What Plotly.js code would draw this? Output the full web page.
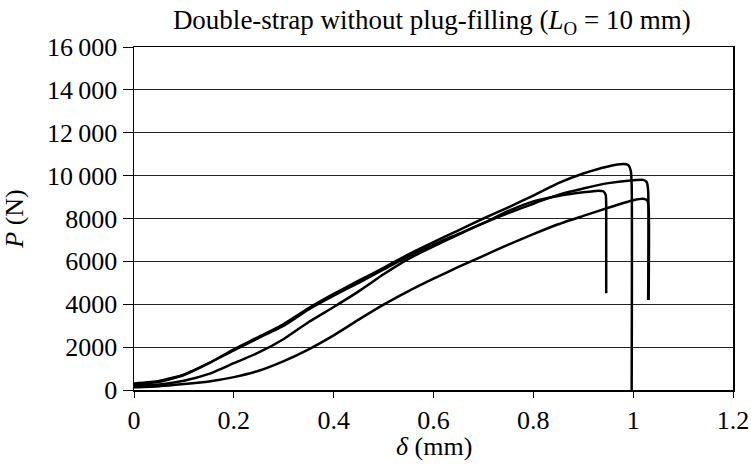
<!DOCTYPE html>
<html>
<head>
<meta charset="utf-8">
<script src="https://cdn.plot.ly/plotly-3.0.1.min.js"></script>
<style>html,body{margin:0;padding:0;background:#fff;}</style>
</head>
<body>
<div id="chart" style="width:751px;height:464px;"></div>
<script>
// Specimen curves: delta (mm) and P (N)
const xA = [0, 0.05, 0.1, 0.15, 0.2, 0.25, 0.3, 0.35, 0.4, 0.45, 0.5, 0.55, 0.6, 0.65, 0.7, 0.75, 0.8, 0.85, 0.9, 0.95, 0.98, 0.99, 0.995, 0.997, 0.997];
const yA = [250, 380, 700, 1250, 1900, 2480, 3080, 3820, 4480, 5100, 5700, 6330, 6900, 7450, 8000, 8520, 9070, 9650, 10100, 10430, 10540, 10500, 10250, 9600, 0];

const xB = [0, 0.05, 0.1, 0.15, 0.2, 0.25, 0.3, 0.35, 0.4, 0.45, 0.5, 0.55, 0.6, 0.65, 0.7, 0.75, 0.8, 0.85, 0.9, 0.95, 1.0, 1.02, 1.027, 1.03, 1.03];
const yB = [200, 260, 430, 750, 1250, 1750, 2380, 3170, 3870, 4600, 5400, 6120, 6700, 7250, 7780, 8250, 8690, 9100, 9400, 9650, 9790, 9800, 9700, 9300, 4200];

const xC = [0, 0.05, 0.1, 0.15, 0.2, 0.25, 0.3, 0.35, 0.4, 0.45, 0.5, 0.55, 0.6, 0.65, 0.7, 0.75, 0.8, 0.85, 0.9, 0.93, 0.94, 0.945, 0.946, 0.946];
const yC = [300, 420, 720, 1250, 1850, 2430, 3000, 3760, 4400, 5000, 5620, 6230, 6780, 7280, 7780, 8350, 8800, 9050, 9220, 9300, 9270, 9100, 8600, 4510];

const xD = [0, 0.05, 0.1, 0.15, 0.2, 0.25, 0.3, 0.35, 0.4, 0.45, 0.5, 0.55, 0.6, 0.65, 0.7, 0.75, 0.8, 0.85, 0.9, 0.95, 1.0, 1.02, 1.028, 1.031, 1.031];
const yD = [130, 180, 280, 400, 600, 900, 1350, 1900, 2550, 3280, 3980, 4610, 5190, 5740, 6260, 6780, 7270, 7730, 8120, 8500, 8850, 8920, 8850, 8500, 4200];

const yTickVals = [0, 2000, 4000, 6000, 8000, 10000, 12000, 14000, 16000];
const yTickText = ['0', '2000', '4000', '6000', '8000', '10\u2009000', '12\u2009000', '14\u2009000', '16\u2009000'];
const xTickVals = [0, 0.2, 0.4, 0.6, 0.8, 1, 1.2];
const xTickText = ['0', '0.2', '0.4', '0.6', '0.8', '1', '1.2'];

const series = [[xA, yA], [xB, yB], [xC, yC], [xD, yD]];
const traces = series.map(s => ({
  x: s[0], y: s[1], type: 'scatter', mode: 'lines',
  line: {color: '#000', width: 2.5, shape: 'spline', smoothing: 0.5},
  hoverinfo: 'skip', showlegend: false
}));

const FS = 26;
const font = {family: '"Liberation Serif", "DejaVu Serif", serif', color: '#000'};
const layout = {
  width: 751, height: 464,
  margin: {l: 134, r: 18, t: 47, b: 74},
  paper_bgcolor: '#fff', plot_bgcolor: '#fff',
  font: Object.assign({size: FS}, font),
  title: {text: 'Double-strap without plug-filling (<i>L</i><sub>O</sub> = 10 mm)',
          font: Object.assign({size: 27}, font), x: 0.575, xanchor: 'center', y: 0.958, yanchor: 'middle'},
  xaxis: {
    range: [0, 1.2], tickvals: xTickVals, ticktext: xTickText,
    showgrid: false, zeroline: false,
    showline: true, linecolor: '#000', linewidth: 1.5, mirror: true,
    ticks: 'outside', ticklen: 6, tickcolor: '#000', tickwidth: 1,
    tickfont: Object.assign({size: FS}, font)
  },
  yaxis: {
    range: [0, 16000], tickvals: yTickVals, ticktext: yTickText,
    showgrid: true, gridcolor: '#222', gridwidth: 1, zeroline: false,
    showline: true, linecolor: '#000', linewidth: 1.5, mirror: true,
    ticks: 'outside', ticklen: 10, tickcolor: '#000', tickwidth: 1,
    tickfont: Object.assign({size: FS}, font),
    title: {text: '<i>P</i> (N)', font: Object.assign({size: FS}, font), standoff: 18}
  },
  annotations: [{
    text: '<i>δ</i> (mm)', xref: 'paper', yref: 'paper', x: 0.5, y: -0.165,
    xanchor: 'center', yanchor: 'middle', showarrow: false,
    font: Object.assign({size: FS}, font)
  }]
};
Plotly.newPlot('chart', traces, layout, {staticPlot: true, displayModeBar: false});
</script>
</body>
</html>
